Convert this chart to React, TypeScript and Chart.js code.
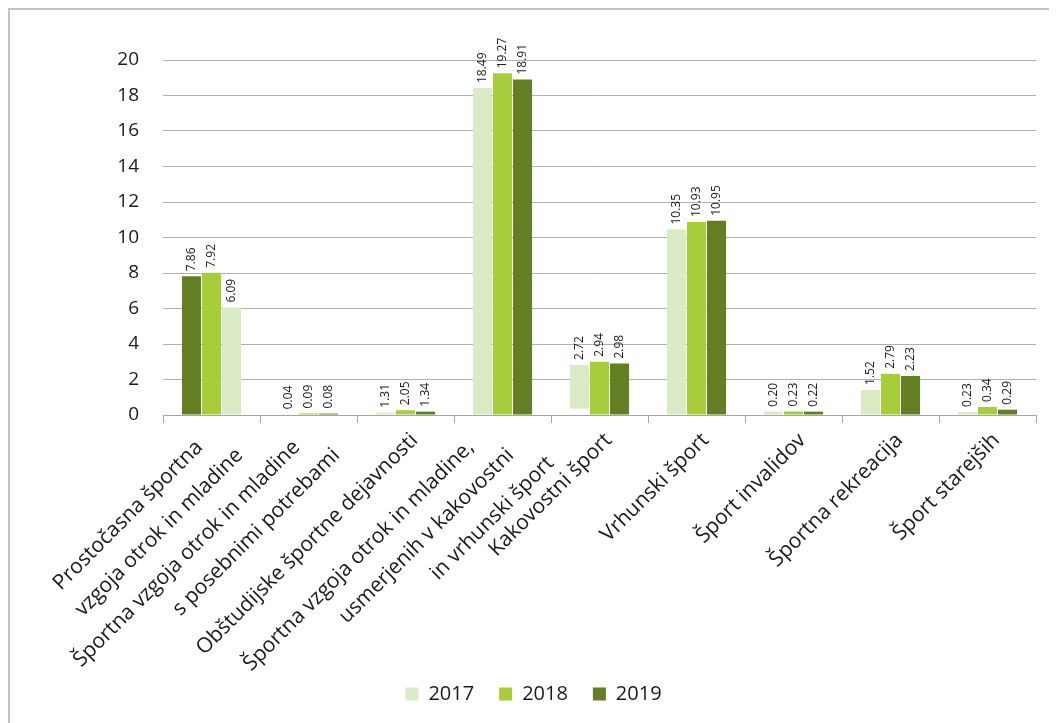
import React, { useEffect, useRef } from "react";
import { Chart, registerables } from "chart.js";

Chart.register(...registerables);

const FONT = "'Open Sans', 'Noto Sans', sans-serif";

const categories: string[][] = [
  ["Prostočasna športna", "vzgoja otrok in mladine"],
  ["Športna vzgoja otrok in mladine", "s posebnimi potrebami"],
  ["Obštudijske športne dejavnosti"],
  ["Športna vzgoja otrok in mladine,", "usmerjenih v kakovostni", "in vrhunski šport"],
  ["Kakovostni šport"],
  ["Vrhunski šport"],
  ["Šport invalidov"],
  ["Športna rekreacija"],
  ["Šport starejših"],
];

const years = ["2017", "2018", "2019"];

// bar heights as drawn in the picture
const heights2017: (number | number[])[] = [7.82, 0.04, 0.13, 18.42, [0.36, 2.82], 10.45, 0.19, 1.41, 0.17];
const heights2018: (number | number[])[] = [8.02, 0.09, 0.27, 19.25, 3.0, 10.87, 0.2, 2.32, 0.45];
const heights2019: (number | number[])[] = [6.05, 0.08, 0.19, 18.9, 2.9, 10.94, 0.19, 2.2, 0.3];

// value labels printed above the bars
const labels2017 = ["7.86", "0.04", "1.31", "18.49", "2.72", "10.35", "0.20", "1.52", "0.23"];
const labels2018 = ["7.92", "0.09", "2.05", "19.27", "2.94", "10.93", "0.23", "2.79", "0.34"];
const labels2019 = ["6.09", "0.08", "1.34", "18.91", "2.98", "10.95", "0.22", "2.23", "0.29"];

const LIGHT = "#d9eac4";
const MID = "#a7cd3b";
const DARK = "#637e23";
const yearColors = [LIGHT, MID, DARK];
const firstGroupColors = [DARK, MID, LIGHT];

const X_LABEL_SIZE = 21;

const valueLabelPlugin = {
  id: "valueLabels",
  afterDatasetsDraw(chart: any) {
    const ctx = chart.ctx;
    const allLabels = [labels2017, labels2018, labels2019];
    ctx.save();
    ctx.font = `12px ${FONT}`;
    ctx.fillStyle = "#1a1a1a";
    ctx.textAlign = "left";
    ctx.textBaseline = "middle";
    chart.data.datasets.forEach((_: any, di: number) => {
      const meta = chart.getDatasetMeta(di);
      meta.data.forEach((el: any, i: number) => {
        ctx.save();
        ctx.translate(el.x, el.y - 5);
        ctx.rotate(-Math.PI / 2);
        ctx.fillText(allLabels[di][i], 0, 0);
        ctx.restore();
      });
    });
    ctx.restore();
  },
};

// rotated multi-line category labels, lines stepped to the right
const categoryLabelPlugin = {
  id: "categoryLabels",
  afterDraw(chart: any) {
    const ctx = chart.ctx;
    const xs = chart.scales.x;
    ctx.save();
    ctx.font = `${X_LABEL_SIZE}px ${FONT}`;
    ctx.fillStyle = "#1a1a1a";
    ctx.textAlign = "right";
    ctx.textBaseline = "middle";
    categories.forEach((lines, i) => {
      const x0 = xs.getPixelForTick(i);
      const n = lines.length;
      lines.forEach((l, j) => {
        const cx = n === 1 ? x0 + 9 : x0 + 8 + (j - (n - 1) / 2) * 40;
        const cy = n === 1 ? xs.top + 22 : xs.top + 29 + j * 8;
        ctx.save();
        ctx.translate(cx, cy);
        ctx.rotate(-Math.PI / 4);
        ctx.fillText(l, 0, 0);
        ctx.restore();
      });
    });
    ctx.restore();
  },
};

export default function App() {
  const ref = useRef<HTMLCanvasElement>(null);

  useEffect(() => {
    if (!ref.current) return;
    const series = [heights2017, heights2018, heights2019];
    const chart = new Chart(ref.current, {
      type: "bar",
      data: {
        labels: categories.map((c) => c.join(" ")),
        datasets: series.map((d, di) => ({
          label: years[di],
          data: d as any,
          backgroundColor: (c: any) =>
            c.type === "data" && c.dataIndex === 0 ? firstGroupColors[di] : yearColors[di],
          borderWidth: 0,
          categoryPercentage: 0.62,
          barPercentage: 0.95,
        })),
      },
      options: {
        animation: false,
        responsive: true,
        maintainAspectRatio: false,
        layout: { padding: { top: 50, right: 0, left: 0, bottom: 9 } },
        plugins: {
          tooltip: { enabled: false },
          legend: {
            position: "bottom",
            labels: {
              boxWidth: 13,
              boxHeight: 13,
              padding: 25,
              font: { size: 20, family: FONT },
              color: "#1a1a1a",
              generateLabels: () =>
                years.map((y, i) => ({
                  text: y,
                  fillStyle: yearColors[i],
                  strokeStyle: yearColors[i],
                  lineWidth: 0,
                  hidden: false,
                  datasetIndex: i,
                  fontColor: "#1a1a1a",
                })),
            },
          },
        },
        scales: {
          x: {
            offset: true,
            grid: {
              offset: true,
              drawOnChartArea: false,
              drawTicks: true,
              tickLength: 8,
              color: "#a6a6a6",
            },
            border: { display: true, color: "#a6a6a6" },
            ticks: { display: false, autoSkip: false },
            afterFit: (s: any) => {
              s.height = 244;
            },
          },
          y: {
            min: 0,
            max: 20,
            ticks: {
              stepSize: 2,
              padding: 24,
              color: "#1a1a1a",
              font: { size: 19, family: FONT },
            },
            grid: { color: "#b0b0b0", drawTicks: false },
            border: { display: false },
            afterFit: (s: any) => {
              s.width = 153;
            },
          },
          yRight: {
            type: "linear",
            position: "right",
            display: true,
            grid: { display: false, drawTicks: false },
            border: { display: false },
            ticks: { display: false },
            afterFit: (s: any) => {
              s.width = 21;
            },
          },
        },
      },
      plugins: [valueLabelPlugin, categoryLabelPlugin],
    });
    return () => chart.destroy();
  }, []);

  return (
    <div
      style={{
        position: "relative",
        width: 1049,
        height: 715,
        borderTop: "2px solid #c3c3c3",
        borderLeft: "2px solid #c3c3c3",
        boxSizing: "border-box",
        overflow: "hidden",
        background: "#fff",
      }}
    >
      <div style={{ position: "absolute", left: 0, top: 0, width: 1047, height: 713 }}>
        <canvas ref={ref} />
      </div>
    </div>
  );
}
